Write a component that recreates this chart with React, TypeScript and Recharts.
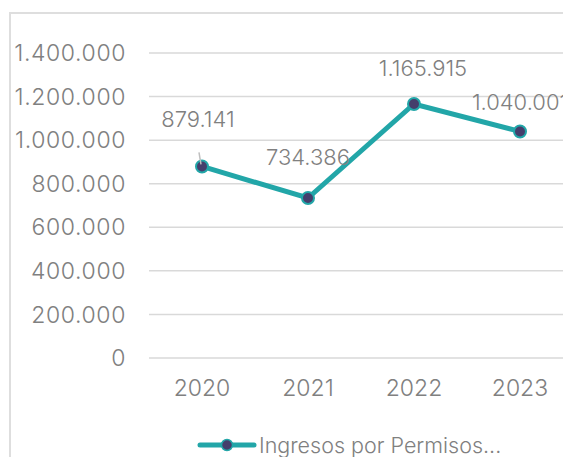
import React from "react";
import { LineChart, Line, XAxis, YAxis, CartesianGrid, Legend, LabelList } from "recharts";

const years = ["2020", "2021", "2022", "2023"];
const ingresos = [879141, 734386, 1165915, 1040001];
const yTicks = [0, 200000, 400000, 600000, 800000, 1000000, 1200000, 1400000];
const seriesName = "Ingresos por Permisos...";

const data = years.map((y, i) => ({ year: y, ingresos: ingresos[i] }));

const FONT = "Inter, 'Noto Sans', sans-serif";
const GRAY = "#808080";
const TEAL = "#22a6a8";
const PURPLE = "#453e6c";

const fmt = (v: number) => String(Math.round(v)).replace(/\B(?=(\d{3})+(?!\d))/g, ".");

// label nudges (dx, dy) relative to point, styling only
const LABEL_NUDGE = [
  [-4, -47],
  [0, -41],
  [9, -36],
  [0, -29],
];

const DataLabel = (props: any) => {
  const { x, y, value, index } = props;
  const [dx, dy] = LABEL_NUDGE[index] || [0, -40];
  return (
    <g>
      {index === 0 && <line x1={x - 3} y1={y - 14} x2={x - 1} y2={y - 2} stroke="#bfbfbf" strokeWidth={1.5} />}
      <text
        x={x + dx}
        y={y + dy}
        textAnchor="middle"
        dominantBaseline="central"
        fill={GRAY}
        fontSize={22}
        fontFamily={FONT}
        fontWeight={300}
      >
        {fmt(value)}
      </text>
    </g>
  );
};

const LegendContent = () => (
  <div style={{ display: "flex", alignItems: "center", fontFamily: FONT, fontSize: 21.5, color: GRAY, fontWeight: 300, whiteSpace: "nowrap" }}>
    <svg width={60} height={16} style={{ marginRight: 2 }}>
      <line x1={3} y1={8} x2={57} y2={8} stroke={TEAL} strokeWidth={5} strokeLinecap="round" />
      <circle cx={30} cy={8} r={5.5} fill={PURPLE} stroke={TEAL} strokeWidth={1.5} />
    </svg>
    <span>{seriesName}</span>
  </div>
);

export default function App() {
  return (
    <div style={{ position: "fixed", left: 0, top: 0, width: 563, height: 457, overflow: "hidden", background: "#fff" }}>
      <div
        style={{
          position: "absolute",
          left: 9,
          top: 12,
          width: 600,
          height: 500,
          borderLeft: "2px solid #dedede",
          borderTop: "2px solid #dedede",
        }}
      />
      <div style={{ position: "absolute", left: 0, top: 0 }}>
        <LineChart width={600} height={457} data={data} margin={{ top: 53, right: 27, bottom: 69, left: 0 }}>
          <CartesianGrid horizontal vertical={false} stroke="#d9d9d9" strokeWidth={1.5} />
          <XAxis
            dataKey="year"
            height={30}
            axisLine={false}
            tickLine={false}
            tickSize={0}
            tickMargin={22}
            padding={{ left: 53, right: 53 }}
            tick={{ fill: GRAY, fontSize: 23, fontFamily: FONT, fontWeight: 300 }}
          />
          <YAxis
            width={149}
            domain={[0, 1400000]}
            ticks={yTicks}
            interval={0}
            axisLine={false}
            tickLine={false}
            tickSize={0}
            tickMargin={23}
            tickFormatter={fmt}
            tick={{ fill: GRAY, fontSize: 23, fontFamily: FONT, fontWeight: 300, letterSpacing: 0.6 }}
          />
          <Legend
            content={<LegendContent />}
            verticalAlign="middle"
            align="center"
            layout="horizontal"
            wrapperStyle={{ position: "absolute", left: 197, top: 432, width: "auto" }}
          />
          <Line
            type="linear"
            dataKey="ingresos"
            name={seriesName}
            stroke={TEAL}
            strokeWidth={5}
            dot={{ r: 6, fill: PURPLE, stroke: TEAL, strokeWidth: 2 }}
            activeDot={false}
            isAnimationActive={false}
          >
            <LabelList dataKey="ingresos" content={<DataLabel />} />
          </Line>
        </LineChart>
      </div>
    </div>
  );
}
